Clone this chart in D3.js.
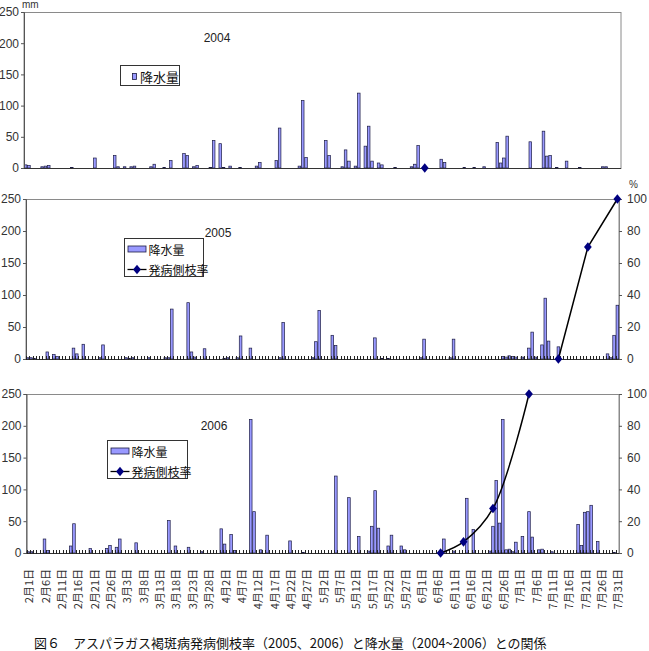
<!DOCTYPE html>
<html>
<head>
<meta charset="utf-8">
<script src="https://cdn.jsdelivr.net/npm/d3@7"></script>
<style>
  body { margin: 0; background: #fff; }
  svg { display: block; }
</style>
</head>
<body>
<svg id="chart" width="649" height="651"></svg>
<script>
/*
Data
*/

// daily precipitation (mm), Feb 1 .. Jul 31 (181 days)
const rain2004 = [
  5,4,0,0,0,2,3,4,0,0,
  0,0,0,0,1,0,0,0,0,0,
  0,16,0,0,0,0,0,20,2,0,
  2,0,2,3,0,0,0,0,2,6,
  0,0,1,0,12,0,0,0,23,20,
  0,2,4,0,0,0,1,44,0,39,
  1,0,3,0,0,1,0,0,0,0,
  3,9,0,0,0,0,12,64,0,0,
  0,0,0,3,108,17,0,0,0,0,
  0,44,20,0,0,0,2,29,11,0,
  3,120,0,35,67,11,0,8,5,0,
  0,0,1,0,0,0,0,2,6,36,
  0,0,0,0,0,0,14,9,0,0,
  0,0,0,1,0,0,1,0,0,2,
  0,0,0,41,8,16,51,0,0,0,
  0,0,0,42,0,0,0,59,19,20,
  0,1,0,0,11,0,0,0,1,0,
  0,0,0,0,0,2,2,0,0,0,0
];
const rain2005 = [
  2,2,1,0,0,0,11,0,7,4,
  0,0,0,0,17,8,0,23,0,0,
  0,0,2,22,0,0,0,0,0,0,
  2,1,2,0,0,0,0,2,0,0,
  0,0,2,2,78,0,0,0,0,88,
  11,3,0,0,16,0,0,0,0,0,
  1,2,0,0,2,36,0,0,17,0,
  0,0,0,0,0,0,0,2,57,0,
  0,0,0,0,0,0,0,2,27,76,
  0,0,0,37,21,0,0,0,0,0,
  0,0,0,0,0,0,33,0,1,0,
  1,0,0,0,0,0,0,0,0,0,
  2,31,0,0,0,0,0,0,0,2,
  31,0,0,0,0,0,0,0,0,0,
  0,0,0,0,0,4,3,5,4,3,
  0,3,0,17,42,3,0,22,95,28,
  0,0,19,0,0,0,0,0,0,0,
  0,0,0,0,0,0,0,8,2,37,84
];
const rain2006 = [
  2,2,0,0,0,22,4,0,0,0,
  0,0,0,11,46,0,0,0,0,7,
  0,0,0,0,7,12,0,9,22,0,
  0,0,0,16,0,0,0,0,0,0,
  0,0,0,51,0,11,0,0,0,9,
  0,0,0,2,0,0,0,0,0,38,
  14,0,29,4,0,0,0,0,210,65,
  0,5,0,28,0,0,0,0,0,0,
  19,0,0,0,1,0,0,0,0,0,
  0,0,0,0,121,0,0,0,87,0,
  0,26,0,0,3,42,98,39,0,0,
  11,28,0,0,11,5,0,0,0,0,
  0,0,0,0,0,0,2,22,0,0,
  3,0,0,0,86,0,37,0,0,0,
  0,3,42,114,47,210,5,6,2,17,
  0,26,0,65,25,0,5,6,0,0,
  2,0,0,0,0,0,0,0,45,12,
  64,65,75,0,18,0,0,0,0,1,0
];

// diseased lateral branch rate (%)
const rateDates2004 = ["6月2日"];
const rate2004 = [0];
const rateDates2005 = ["7月13日", "7月22日", "7月31日"];
const rate2005 = [0, 70, 100];
const rateDates2006 = ["6月7日", "6月14日", "6月23日", "7月4日"];
const rate2006 = [0, 7, 28, 100];

const tickLabels = [
  "2月1日","2月6日","2月11日","2月16日","2月21日","2月26日",
  "3月3日","3月8日","3月13日","3月18日","3月23日","3月28日",
  "4月2日","4月7日","4月12日","4月17日","4月22日","4月27日",
  "5月2日","5月7日","5月12日","5月17日","5月22日","5月27日",
  "6月1日","6月6日","6月11日","6月16日","6月21日","6月26日",
  "7月1日","7月6日","7月11日","7月16日","7月21日","7月26日","7月31日"
];
const rainTicks = [0, 50, 100, 150, 200, 250];
const rateTicks = [0, 20, 40, 60, 80, 100];

const caption = "図６　アスパラガス褐斑病発病側枝率（2005、2006）と降水量（2004~2006）との関係";

// categories: every day Feb 1 .. Jul 31
const fmtDay = d3.timeFormat("%-m月%-d日");
const days = d3.timeDay.range(new Date(2005, 1, 1), new Date(2005, 7, 1)).map(fmtDay);

/*
Drawing
*/

const svg = d3.select("#chart");
const numFont = "'Liberation Sans Narrow','Liberation Sans',Arial,sans-serif";
const jpFont = "'Noto Sans CJK JP','Noto Sans',sans-serif";
const barFill = "#9999ff";
const barStroke = "#1c1c44";
const markColor = "#000080";

const panels = [
  { year: "2004", rain: rain2004, rateDates: rateDates2004, rate: rate2004,
    left: 24, right: 621, top: 12, bottom: 168,
    yearPos: [217, 42], legend: { x: 120.5, y: 65.5, w: 59, h: 20, simple: true },
    rightAxis: false, pct: false, dayTicks: false, labels: false, line: "none" },
  { year: "2005", rain: rain2005, rateDates: rateDates2005, rate: rate2005,
    left: 26, right: 619, top: 199, bottom: 359,
    yearPos: [218, 237], legend: { x: 124.5, y: 238.5, w: 79, h: 38 },
    rightAxis: true, pct: true, dayTicks: true, labels: false, line: "linear" },
  { year: "2006", rain: rain2006, rateDates: rateDates2006, rate: rate2006,
    left: 26.5, right: 619, top: 394, bottom: 553,
    yearPos: [214, 430], legend: { x: 107.5, y: 440.5, w: 80, h: 38 },
    rightAxis: true, pct: false, dayTicks: true, labels: true, line: "smooth" }
];

panels.forEach(drawPanel);

svg.append("text")
  .attr("x", 22).attr("y", 8)
  .attr("font-family", numFont).attr("font-size", 10).attr("fill", "#333")
  .text("mm");

svg.append("text")
  .attr("x", 34).attr("y", 648)
  .attr("font-family", jpFont).attr("font-size", 13).attr("fill", "#111")
  .text(caption);

function drawPanel(p) {
  const g = svg.append("g");

  const x = d3.scaleBand().domain(days).range([p.left, p.right]).padding(0);
  const y = d3.scaleLinear().domain([0, 250]).range([p.bottom, p.top]);
  const yr = d3.scaleLinear().domain([0, 100]).range([p.bottom, p.top]);
  const bw = x.bandwidth();

  // frame
  g.append("rect")
    .attr("x", p.left).attr("y", p.top + 0.5)
    .attr("width", p.right - p.left).attr("height", p.bottom - p.top)
    .attr("fill", "none").attr("stroke", "#8a8a8a");

  // bars
  g.append("g").selectAll("rect")
    .data(days.map((d, i) => ({ day: d, v: p.rain[i] })).filter(d => d.v > 0))
    .join("rect")
    .attr("x", d => x(d.day) + bw * 0.5 - 1.3)
    .attr("width", 2.6)
    .attr("y", d => y(d.v))
    .attr("height", d => y(0) - y(d.v))
    .attr("fill", barFill)
    .attr("stroke", barStroke)
    .attr("stroke-width", 0.7);

  // left axis
  const ax = g.append("g")
    .attr("transform", `translate(${p.left},0)`)
    .call(d3.axisLeft(y).tickValues(rainTicks).tickSize(3).tickPadding(2));
  ax.select(".domain").attr("stroke", "#555");
  ax.selectAll(".tick line").attr("stroke", "#555");
  ax.selectAll("text").attr("font-family", numFont).attr("font-size", 12).attr("fill", "#333");

  // right axis
  if (p.rightAxis) {
    const ar = g.append("g")
      .attr("transform", `translate(${p.right},0)`)
      .call(d3.axisRight(yr).tickValues(rateTicks).tickSize(3).tickPadding(5));
    ar.select(".domain").attr("stroke", "#8a8a8a");
    ar.selectAll(".tick line").attr("stroke", "#555");
    ar.selectAll("text").attr("font-family", numFont).attr("font-size", 12).attr("fill", "#333");
  }
  if (p.pct) {
    g.append("text")
      .attr("x", p.right + 10).attr("y", p.top - 11)
      .attr("font-family", numFont).attr("font-size", 10).attr("fill", "#333")
      .text("%");
  }

  // bottom axis line
  g.append("line")
    .attr("x1", p.left).attr("x2", p.right)
    .attr("y1", p.bottom + 0.5).attr("y2", p.bottom + 0.5)
    .attr("stroke", "#333");

  if (p.dayTicks) {
    g.append("g").selectAll("line")
      .data(days)
      .join("line")
      .attr("x1", d => Math.round(x(d)) + 0.5).attr("x2", d => Math.round(x(d)) + 0.5)
      .attr("y1", p.bottom - 3).attr("y2", p.bottom + 1)
      .attr("stroke", "#222").attr("stroke-width", 1);
  }

  if (p.labels) {
    g.append("g").selectAll("text")
      .data(tickLabels)
      .join("text")
      .attr("transform", d => `translate(${x(d) + bw / 2},569) rotate(-90)`)
      .attr("text-anchor", "end")
      .attr("dominant-baseline", "central")
      .attr("font-family", jpFont).attr("font-size", 11).attr("fill", "#333")
      .text(d => d);
  }

  // rate series
  const pts = p.rateDates.map((d, i) => ({ day: d, v: p.rate[i] }));
  if (p.line !== "none") {
    const line = d3.line()
      .x(d => x(d.day) + bw / 2)
      .y(d => yr(d.v))
      .curve(p.line === "smooth" ? d3.curveCatmullRom.alpha(0.5) : d3.curveLinear);
    g.append("path").datum(pts)
      .attr("d", line)
      .attr("fill", "none").attr("stroke", "#000").attr("stroke-width", 1.5);
  }
  g.append("g").selectAll("path")
    .data(pts)
    .join("path")
    .attr("transform", d => `translate(${x(d.day) + bw / 2},${yr(d.v)}) scale(0.9,1.1)`)
    .attr("d", d3.symbol(d3.symbolDiamond2, 48))
    .attr("fill", markColor);

  // year label
  g.append("text")
    .attr("x", p.yearPos[0]).attr("y", p.yearPos[1])
    .attr("text-anchor", "middle")
    .attr("font-family", numFont).attr("font-size", 12).attr("fill", "#222")
    .text(p.year);

  // legend
  const L = p.legend;
  const lg = g.append("g").attr("transform", `translate(${L.x},${L.y})`);
  lg.append("rect")
    .attr("width", L.w).attr("height", L.h)
    .attr("fill", "#fff").attr("stroke", "#333");
  if (L.simple) {
    lg.append("rect")
      .attr("x", 12).attr("y", 8).attr("width", 4).attr("height", 6)
      .attr("fill", barFill).attr("stroke", barStroke).attr("stroke-width", 0.8);
    lg.append("text")
      .attr("x", 19.5).attr("y", 10.5)
      .attr("dominant-baseline", "central")
      .attr("font-family", jpFont).attr("font-size", 13).attr("fill", "#111")
      .text("降水量");
  } else {
    lg.append("rect")
      .attr("x", 3.5).attr("y", 7.5).attr("width", 18).attr("height", 6)
      .attr("fill", barFill).attr("stroke", barStroke).attr("stroke-width", 0.8);
    lg.append("text")
      .attr("x", 24).attr("y", 10.5)
      .attr("dominant-baseline", "central")
      .attr("font-family", jpFont).attr("font-size", 12).attr("fill", "#111")
      .text("降水量");
    lg.append("line")
      .attr("x1", 3).attr("x2", 22).attr("y1", 31).attr("y2", 31)
      .attr("stroke", "#000").attr("stroke-width", 1.3);
    lg.append("path")
      .attr("transform", "translate(12.5,31) scale(0.9,1.1)")
      .attr("d", d3.symbol(d3.symbolDiamond2, 48))
      .attr("fill", markColor);
    lg.append("text")
      .attr("x", 24).attr("y", 30.5)
      .attr("dominant-baseline", "central")
      .attr("font-family", jpFont).attr("font-size", 12).attr("fill", "#111")
      .text("発病側枝率");
  }
}
</script>
</body>
</html>
